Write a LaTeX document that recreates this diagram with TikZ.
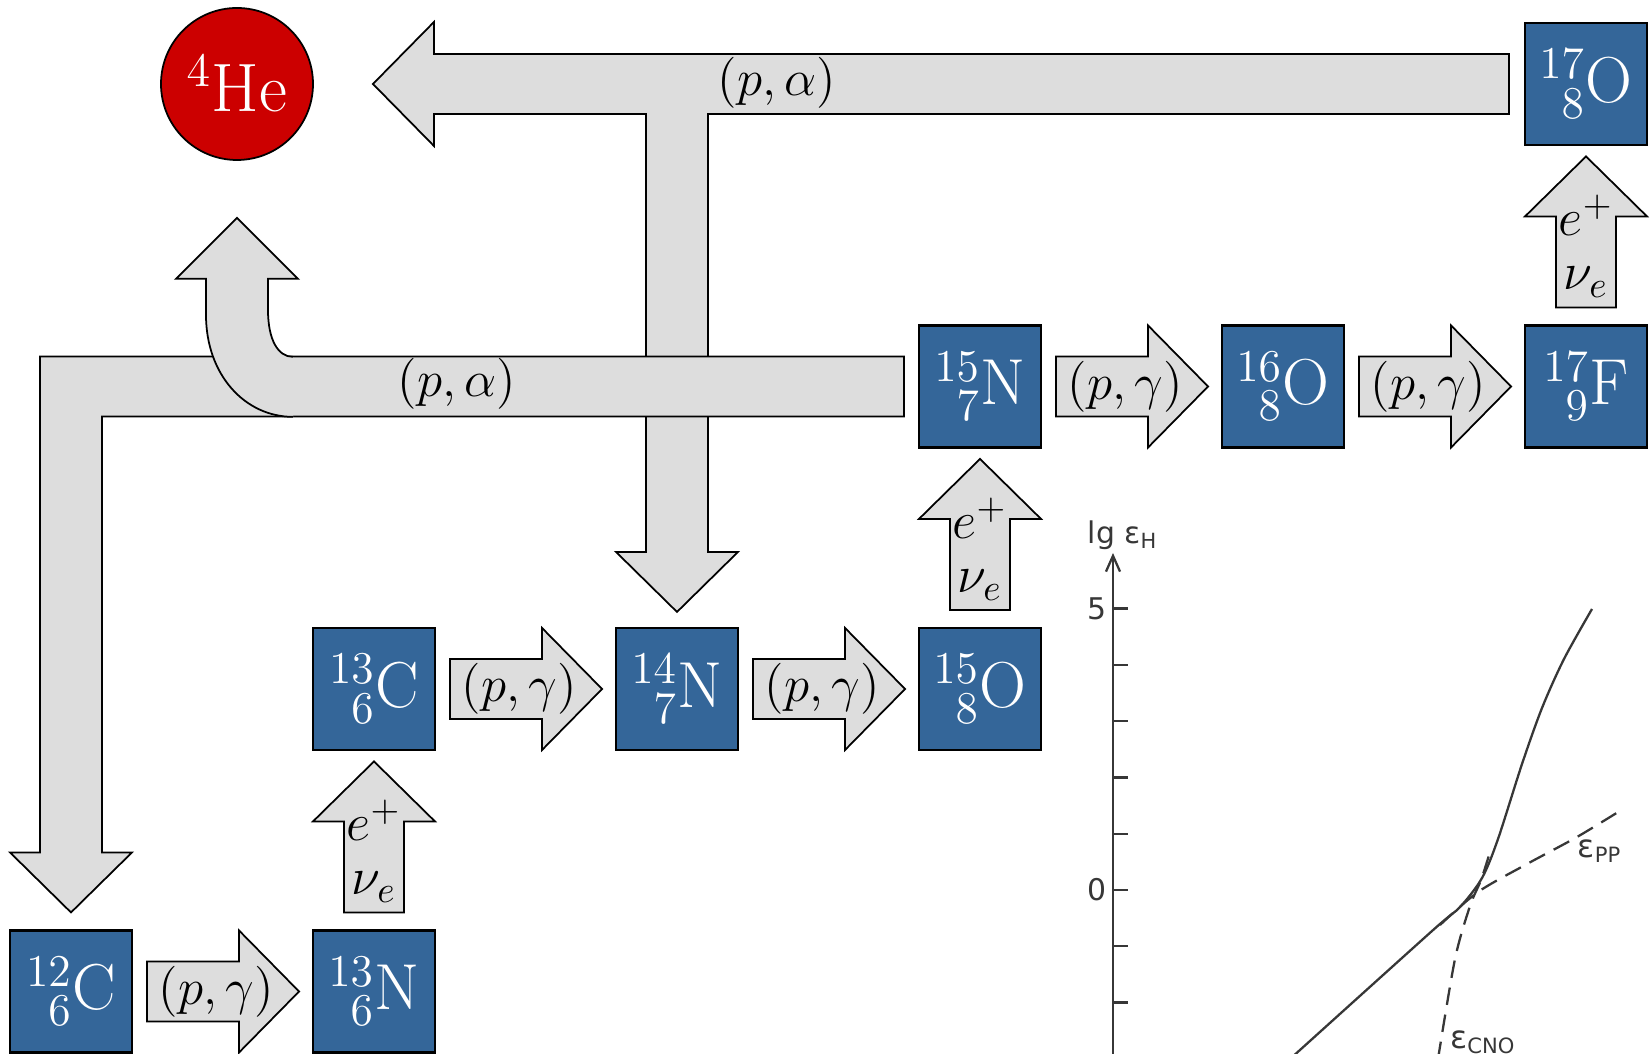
\RequirePackage{fix-cm}
\documentclass[tikz,border=0pt]{standalone}
\usepackage{fontspec}
\usepackage{amsmath}
\usepackage{tikz}
\usetikzlibrary{arrows.meta,calc}

\newfontfamily\plotfont{DejaVu Sans}
\definecolor{nucblue}{RGB}{52,102,153}
\definecolor{flowgray}{RGB}{221,221,221}
\definecolor{hered}{RGB}{204,0,0}
\definecolor{inkgray}{RGB}{55,55,55}

\begin{document}
\begin{tikzpicture}[
  nuc/.style={draw=black, line width=0.6pt, fill=nucblue, text=white, minimum size=1.22cm,
              inner sep=0pt, font=\fontsize{18.5}{21}\selectfont},
  flow/.style={draw=black, line width=0.5pt, fill=flowgray, line join=miter},
  rx/.style={font=\fontsize{14.5}{16}\selectfont, inner sep=1pt},
  ink/.style={draw=inkgray, line width=0.65pt},
  inklbl/.style={font=\plotfont\fontsize{8.5}{10}\selectfont, text=inkgray, inner sep=1pt}
]
  \useasboundingbox (0,0) rectangle (16.51,10.54);

  % nuclei
  \node[nuc] (c12) at (0.71, 0.625) {${}^{12}_{\phantom{1}6}\mathrm{C}$};
  \node[nuc] (n13) at (3.74, 0.625) {${}^{13}_{\phantom{1}6}\mathrm{N}$};
  \node[nuc] (c13) at (3.74, 3.65)  {${}^{13}_{\phantom{1}6}\mathrm{C}$};
  \node[nuc] (n14) at (6.77, 3.65)  {${}^{14}_{\phantom{1}7}\mathrm{N}$};
  \node[nuc] (o15) at (9.80, 3.65)  {${}^{15}_{\phantom{1}8}\mathrm{O}$};
  \node[nuc] (n15) at (9.80, 6.675) {${}^{15}_{\phantom{1}7}\mathrm{N}$};
  \node[nuc] (o16) at (12.83, 6.675) {${}^{16}_{\phantom{1}8}\mathrm{O}$};
  \node[nuc] (f17) at (15.86, 6.675) {${}^{17}_{\phantom{1}9}\mathrm{F}$};
  \node[nuc] (o17) at (15.86, 9.70)  {${}^{17}_{\phantom{1}8}\mathrm{O}$};
  \node[circle, draw=black, line width=0.5pt, fill=hered, text=white, minimum size=1.52cm,
        inner sep=0pt, font=\fontsize{19.5}{22}\selectfont] (he4) at (2.37, 9.70) {${}^{4}$He};

  % (p,alpha) back to helium: upper branch
  \draw[flow] ($(o17.west)+(-0.15,0.30)$) -- ++(-10.75,0) -- ++(0,0.32) -- ++(-0.61,-0.62)
    -- ++(0.61,-0.62) -- ++(0,0.32) -| ($(n14.north)+(-0.31,0.75)$) -- ++(-0.30,0)
    -- ++(0.61,-0.60) -- ++(0.61,0.60) -- ++(-0.30,0) |- ($(o17.west)+(-0.15,-0.30)$) -- cycle;
  \node[rx] (pa1) at (7.77, 9.71) {$(p,\alpha)$};

  % (p,alpha) back to helium: lower branch
  \draw[flow] ($(n15.west)+(-0.14,0.30)$) -| ($(c12.north)+(-0.31,0.77)$) -- ++(-0.30,0)
    -- ++(0.61,-0.60) -- ++(0.61,0.60) -- ++(-0.30,0) |- ($(n15.west)+(-0.14,-0.30)$) -- cycle;
  \draw[flow] ($(he4.south)+(0.56,-1.96)$) .. controls +(-0.15,0) and +(0,-0.30) ..
    ($(he4.south)+(0.31,-1.49)$) -- ++(0,0.31) -- ++(0.30,0) -- ++(-0.61,0.61)
    -- ++(-0.61,-0.61) -- ++(0.30,0) -- ++(0,-0.36) .. controls +(0,-0.60) and +(-0.48,0) ..
    ($(he4.south)+(0.56,-2.56)$);
  \node[rx] (pa2) at (4.57, 6.70) {$(p,\alpha)$};

  % (p,gamma) steps
  \draw[flow] ($(c12.east)+(0.14,0)$) coordinate (t1) -- ++(0,0.30) -- ++(0.92,0) -- ++(0,0.31)
    -- ++(0.60,-0.61) -- ++(-0.60,-0.61) -- ++(0,0.31) -- ++(-0.92,0) -- cycle;
  \node[rx] (pg1) at ($(t1)+(0.69,0)$) {$(p,\gamma)$};
  \draw[flow] ($(c13.east)+(0.14,0)$) coordinate (t2) -- ++(0,0.30) -- ++(0.92,0) -- ++(0,0.31)
    -- ++(0.60,-0.61) -- ++(-0.60,-0.61) -- ++(0,0.31) -- ++(-0.92,0) -- cycle;
  \node[rx] (pg2) at ($(t2)+(0.69,0)$) {$(p,\gamma)$};
  \draw[flow] ($(n14.east)+(0.14,0)$) coordinate (t3) -- ++(0,0.30) -- ++(0.92,0) -- ++(0,0.31)
    -- ++(0.60,-0.61) -- ++(-0.60,-0.61) -- ++(0,0.31) -- ++(-0.92,0) -- cycle;
  \node[rx] (pg3) at ($(t3)+(0.69,0)$) {$(p,\gamma)$};
  \draw[flow] ($(n15.east)+(0.14,0)$) coordinate (t4) -- ++(0,0.30) -- ++(0.92,0) -- ++(0,0.31)
    -- ++(0.60,-0.61) -- ++(-0.60,-0.61) -- ++(0,0.31) -- ++(-0.92,0) -- cycle;
  \node[rx] (pg4) at ($(t4)+(0.69,0)$) {$(p,\gamma)$};
  \draw[flow] ($(o16.east)+(0.14,0)$) coordinate (t5) -- ++(0,0.30) -- ++(0.92,0) -- ++(0,0.31)
    -- ++(0.60,-0.61) -- ++(-0.60,-0.61) -- ++(0,0.31) -- ++(-0.92,0) -- cycle;
  \node[rx] (pg5) at ($(t5)+(0.69,0)$) {$(p,\gamma)$};

  % beta+ decays
  \draw[flow] ($(n13.north)+(0,0.17)$) coordinate (t6) -- ++(0.30,0) -- ++(0,0.91) -- ++(0.31,0)
    -- ++(-0.61,0.60) -- ++(-0.61,-0.60) -- ++(0.31,0) -- ++(0,-0.91) -- cycle;
  \node[rx, font=\fontsize{15}{17}\selectfont] (ep6) at ($(t6)+(0,0.92)$) {$e^{+}$};
  \node[rx, font=\fontsize{15}{17}\selectfont] (nu6) at ($(t6)+(0,0.25)$) {$\nu_{e}$};
  \draw[flow] ($(o15.north)+(0,0.17)$) coordinate (t7) -- ++(0.30,0) -- ++(0,0.91) -- ++(0.31,0)
    -- ++(-0.61,0.60) -- ++(-0.61,-0.60) -- ++(0.31,0) -- ++(0,-0.91) -- cycle;
  \node[rx, font=\fontsize{15}{17}\selectfont] (ep7) at ($(t7)+(0,0.92)$) {$e^{+}$};
  \node[rx, font=\fontsize{15}{17}\selectfont] (nu7) at ($(t7)+(0,0.25)$) {$\nu_{e}$};
  \draw[flow] ($(f17.north)+(0,0.17)$) coordinate (t8) -- ++(0.30,0) -- ++(0,0.91) -- ++(0.31,0)
    -- ++(-0.61,0.60) -- ++(-0.61,-0.60) -- ++(0.31,0) -- ++(0,-0.91) -- cycle;
  \node[rx, font=\fontsize{15}{17}\selectfont] (ep8) at ($(t8)+(0,0.92)$) {$e^{+}$};
  \node[rx, font=\fontsize{15}{17}\selectfont] (nu8) at ($(t8)+(0,0.25)$) {$\nu_{e}$};

  % energy generation plot
  \draw[ink, -{Straight Barb[length=4.5pt,width=4pt]}] (11.13,-0.10) -- (11.13,5.01);
  \draw[ink] (11.13,0.514) -- ++(0.15,0) (11.13,1.077) -- ++(0.15,0) (11.13,1.640) -- ++(0.15,0)
    (11.13,2.203) -- ++(0.15,0) (11.13,2.766) -- ++(0.15,0) (11.13,3.329) -- ++(0.15,0)
    (11.13,3.892) -- ++(0.15,0) (11.13,4.455) -- ++(0.15,0);
  \node[inklbl] (y5) at (10.97, 4.455) {5};
  \node[inklbl] (y0) at (10.97, 1.640) {0};
  \node[inklbl] (yl) at (11.23, 5.19) {lg ε\textsubscript{H}};
  \draw[ink] plot[smooth] coordinates {(12.90,-0.05) (14.32,1.23) (14.60,1.47) (14.82,1.76)
    (14.98,2.15) (15.22,2.90) (15.42,3.46) (15.64,3.95) (15.92,4.45)};
  \draw[ink, dash pattern=on 5pt off 2.8pt] plot[smooth] coordinates {(14.40,1.29) (14.78,1.62)
    (15.27,1.90) (15.77,2.17) (16.23,2.45)};
  \draw[ink, dash pattern=on 5pt off 2.8pt] plot[smooth] coordinates {(14.38,-0.05) (14.55,0.95)
    (14.70,1.48) (14.81,1.74) (14.90,2.02)};
  \node[inklbl, font=\plotfont\fontsize{9}{10}\selectfont] (epp) at (16.00, 2.03) {ε\textsubscript{PP}};
  \node[inklbl, font=\plotfont\fontsize{9}{10}\selectfont, anchor=north west] (ecno) at (14.46, 0.27)
    {ε\textsubscript{CNO}};
\end{tikzpicture}
\end{document}
